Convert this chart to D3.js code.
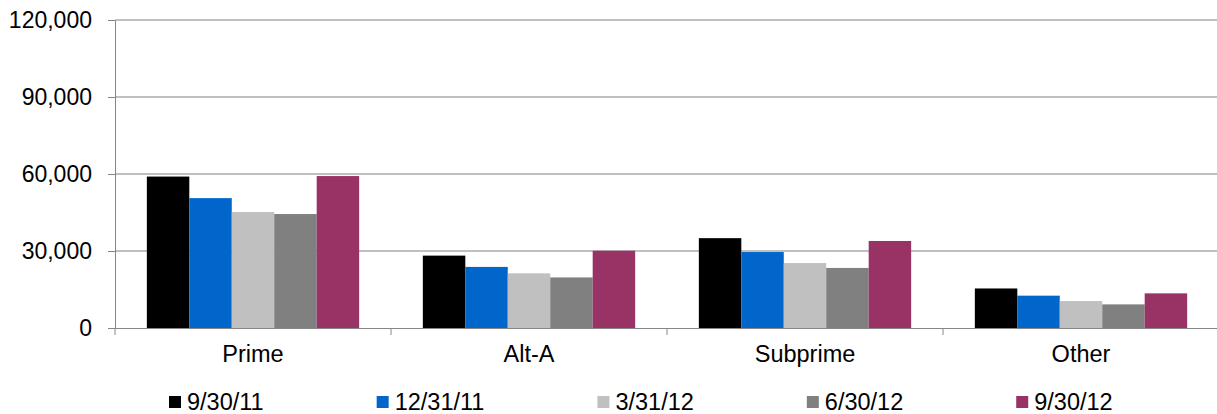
<!DOCTYPE html>
<html>
<head>
<meta charset="utf-8">
<script src="https://cdn.jsdelivr.net/npm/d3@7"></script>
<style>
  body { margin:0; background:#fff; }
  text { font-family: Arial, "Liberation Sans", sans-serif; fill:#000; }
</style>
</head>
<body>
<div id="chart"></div>
<script>
let categories = ['Prime','Alt-A','Subprime','Other']
let seriesNames = ['9/30/11','12/31/11','3/31/12','6/30/12','9/30/12']
let seriesColors = ['#000000','#0066cc','#c0c0c0','#808080','#993366']
let s_093011 = [59000, 28200, 35000, 15400]
let s_123111 = [50600, 23800, 29600, 12600]
let s_033112 = [45200, 21300, 25300, 10500]
let s_063012 = [44400, 19700, 23400, 9200]
let s_093012 = [59200, 30100, 33900, 13500]
let yTicks = [0, 30000, 60000, 90000, 120000]

let seriesValues = [s_093011, s_123111, s_033112, s_063012, s_093012]

function render(){
  let width = 1217, height = 414,
      margin = { top:20, left:115, right:-2, bottom:86 }

  let svg = d3.select("#chart").append("svg")
      .attr("width",width).attr("height",height)

  let xScale = d3.scaleBand().domain(categories).range([margin.left, width - margin.right]).padding(0)
  let x1 = d3.scaleBand().domain(seriesNames).range([0, xScale.bandwidth()]).paddingInner(0).paddingOuter(0.75)
  let yScale = d3.scaleLinear().domain([0,120000]).range([height - margin.bottom, margin.top])
  let color = d3.scaleOrdinal().domain(seriesNames).range(seriesColors)

  // gridlines
  svg.append("g").selectAll("line")
    .data(yTicks.filter(d => d > 0))
    .enter().append("line")
    .attr("x1",margin.left).attr("x2",width)
    .attr("y1",d=>yScale(d)).attr("y2",d=>yScale(d))
    .attr("stroke","#c0c0c0").attr("stroke-width",2)

  // bars
  let groups = svg.append("g").selectAll("g")
    .data(categories)
    .enter().append("g")
    .attr("transform",d=>`translate(${xScale(d)},0)`)

  groups.selectAll("rect")
    .data((c,ci) => seriesNames.map((s,si) => ({ s:s, v:seriesValues[si][ci] })))
    .enter().append("rect")
    .attr("x",d=>x1(d.s))
    .attr("width",x1.bandwidth())
    .attr("y",d=>yScale(d.v))
    .attr("height",d=>yScale(0)-yScale(d.v))
    .attr("fill",d=>color(d.s))

  // y axis
  let yAxis = d3.axisLeft(yScale).tickValues(yTicks).tickSize(7).tickPadding(16)
      .tickFormat(d3.format(","))
  let yGroup = svg.append("g").attr("transform",`translate(${margin.left},0)`).call(yAxis)
  yGroup.select(".domain").attr("stroke","#868686")
  yGroup.selectAll(".tick line").attr("stroke","#868686")
  yGroup.selectAll("text").style("font-size","23px").attr("fill","#000")

  // x axis
  let xAxis = d3.axisBottom(xScale).tickSize(0).tickPadding(17)
  let xGroup = svg.append("g").attr("transform",`translate(0,${yScale(0)})`).call(xAxis)
  xGroup.select(".domain").attr("stroke","#868686")
  xGroup.selectAll("text").style("font-size","23.5px").attr("fill","#000")
  xGroup.selectAll(".sep")
    .data(d3.range(categories.length + 1))
    .enter().append("line")
    .attr("x1",i=>margin.left + i*xScale.step()).attr("x2",i=>margin.left + i*xScale.step())
    .attr("y1",0).attr("y2",7)
    .attr("stroke","#868686")

  // legend
  let legend = svg.append("g").attr("transform","translate(169,0)")
  let lx = 0
  seriesNames.forEach(function(s){
    let item = legend.append("g").attr("transform",`translate(${lx},0)`)
    item.append("rect").attr("x",0).attr("y",396).attr("width",12).attr("height",12).attr("fill",color(s))
    let t = item.append("text").attr("x",18).attr("y",410).style("font-size","23.5px").text(s)
    lx += 18 + t.node().getComputedTextLength() + 113
  })
}

render()
</script>
</body>
</html>
